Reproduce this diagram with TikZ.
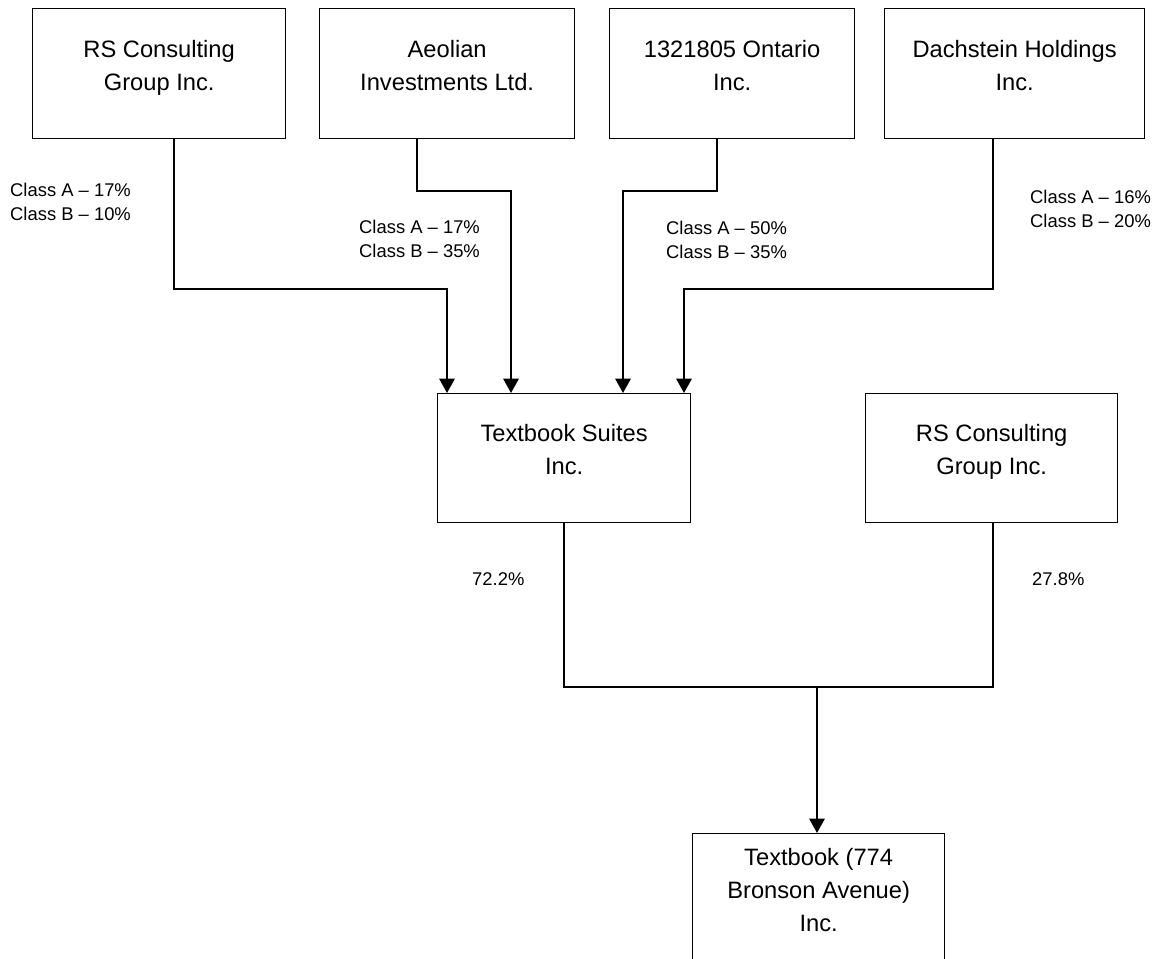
\documentclass[tikz,border=0pt]{standalone}
\usepackage{fontspec}
\setmainfont{Liberation Sans}
\usetikzlibrary{arrows.meta,calc}
\begin{document}
\begin{tikzpicture}[x=1pt,y=-1pt,
  box/.style={draw=black,line width=1.3pt,anchor=north west,inner sep=0pt},
  boxtext/.style={anchor=north,inner sep=0pt,align=center,font=\fontsize{23.7}{33}\selectfont},
  lbl/.style={anchor=north west,inner sep=0pt,align=left,font=\fontsize{18.4}{24}\selectfont},
  conn/.style={line width=2pt},
  arr/.style={line width=2pt,-{Triangle[width=15.5pt,length=14.5pt]}}]
\useasboundingbox (0,0) rectangle (1164,958);
\clip (0,0) rectangle (1164,958);
% top boxes
\node[box,minimum width=253pt,minimum height=130pt] (b1) at (32,8) {};
\node[box,minimum width=255pt,minimum height=130pt] (b2) at (319,8) {};
\node[box,minimum width=245pt,minimum height=130pt] (b3) at (609,8) {};
\node[box,minimum width=260pt,minimum height=130pt] (b4) at (884,8) {};
\node[boxtext] (b1t) at ($(b1.north)+(0,32)$) {RS Consulting\\Group Inc.};
\node[boxtext] (b2t) at ($(b2.north)+(0,32)$) {Aeolian\\Investments Ltd.};
\node[boxtext] (b3t) at ($(b3.north)+(0,32)$) {1321805 Ontario\\Inc.};
\node[boxtext] (b4t) at ($(b4.north)+(0,32)$) {Dachstein Holdings\\Inc.};
% middle boxes
\node[box,minimum width=253pt,minimum height=129pt] (ts) at (437,393) {};
\node[box,minimum width=252pt,minimum height=129pt] (rs) at (865,393) {};
\node[boxtext] (tst) at ($(ts.north)+(0,31)$) {Textbook Suites\\Inc.};
\node[boxtext] (rst) at ($(rs.north)+(0,31)$) {RS Consulting\\Group Inc.};
% bottom box
\node[box,minimum width=252pt,minimum height=130pt] (bt) at (692,833) {};
\node[boxtext] (btt) at ($(bt.north)+(0,15)$) {Textbook (774\\Bronson Avenue)\\Inc.};
% junction levels
\coordinate (j1) at (0,289);
\coordinate (j2) at (0,191);
\coordinate (j3) at (0,687);
\coordinate (m) at (817,687);
% connectors to Textbook Suites
\draw[arr] ([xshift=142pt]b1.south west) |- ([xshift=10pt]ts.north west |- j1) -- ([xshift=10pt]ts.north west);
\draw[arr] ([xshift=98pt]b2.south west) |- ([xshift=74pt]ts.north west |- j2) -- ([xshift=74pt]ts.north west);
\draw[arr] ([xshift=108pt]b3.south west) |- ([xshift=186pt]ts.north west |- j2) -- ([xshift=186pt]ts.north west);
\draw[arr] ([xshift=109pt]b4.south west) |- ([xshift=247pt]ts.north west |- j1) -- ([xshift=247pt]ts.north west);
% connectors to bottom
\draw[conn] ([xshift=127pt]ts.south west) |- ([xshift=128pt]rs.south west |- j3) -- ([xshift=128pt]rs.south west);
\draw[arr] (m) -- (m |- bt.north);
% labels
\node[lbl] (l1) at (10,183) {Class A -- 17\%\\Class B -- 10\%};
\node[lbl] (l2) at (359,220) {Class A -- 17\%\\Class B -- 35\%};
\node[lbl] (l3) at (666,221) {Class A -- 50\%\\Class B -- 35\%};
\node[lbl] (l4) at (1030,190) {Class A -- 16\%\\Class B -- 20\%};
\node[lbl] (p1) at (472,572) {72.2\%};
\node[lbl] (p2) at (1032,572) {27.8\%};
\end{tikzpicture}
\end{document}
